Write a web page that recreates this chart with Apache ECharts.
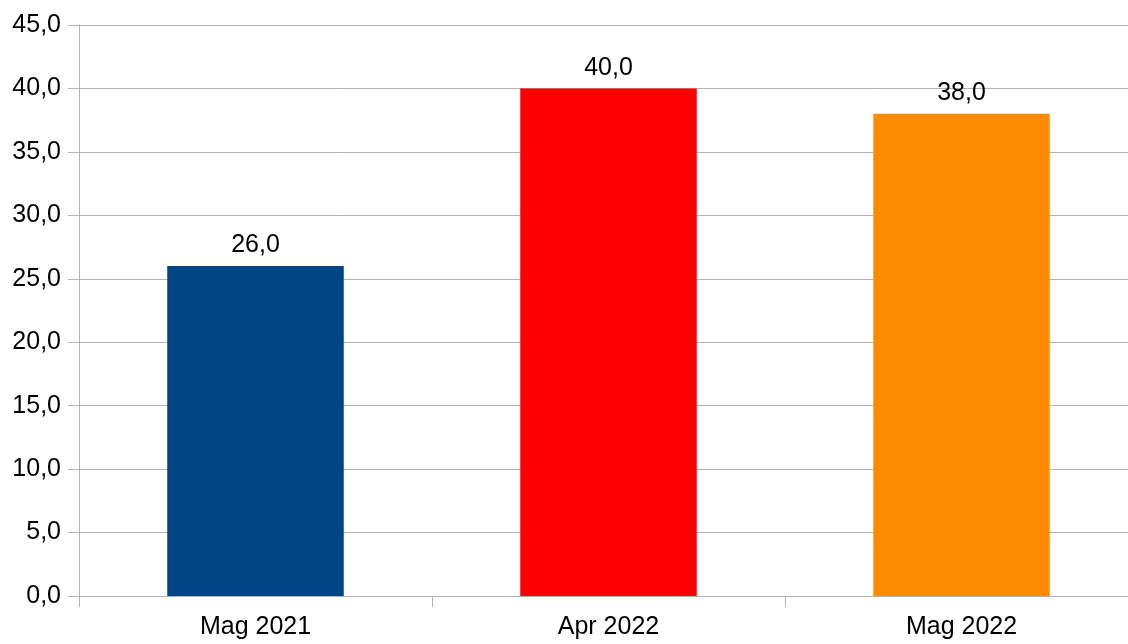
<!DOCTYPE html>
<html>
<head>
<meta charset="utf-8">
<script src="https://cdn.jsdelivr.net/npm/echarts@6/dist/echarts.min.js"></script>
<style>
html,body{margin:0;padding:0;background:#fff;overflow:hidden;width:1128px;height:644px;}
#c{width:1140px;height:644px;}
</style>
</head>
<body>
<div id="c"></div>
<script>
const categories = ['Mag 2021', 'Apr 2022', 'Mag 2022'];
const values = [26.0, 40.0, 38.0];
const barColors = ['#004586', '#ff0000', '#ff8c00'];
const yTicks = { min: 0, max: 45, interval: 5 };

const fmt = v => Number(v).toFixed(1).replace('.', ',');
const chart = echarts.init(document.getElementById('c'), null, { renderer: 'canvas' });
const FONT = '"Liberation Sans", Arial, sans-serif';
chart.setOption({
  animation: false,
  backgroundColor: '#ffffff',
  grid: { left: 79, right: 2, top: 25, bottom: 48, containLabel: false },
  xAxis: {
    type: 'category',
    data: categories,
    boundaryGap: true,
    axisLine: { lineStyle: { color: '#b3b3b3', width: 1 } },
    axisTick: { show: true, length: 11, lineStyle: { color: '#b3b3b3' }, alignWithLabel: false },
    axisLabel: { color: '#000', fontSize: 25, fontFamily: FONT, margin: 19 }
  },
  yAxis: {
    type: 'value',
    min: yTicks.min, max: yTicks.max, interval: yTicks.interval,
    axisLine: { show: true, lineStyle: { color: '#b3b3b3', width: 1 } },
    axisTick: { show: true, length: 11, lineStyle: { color: '#b3b3b3' } },
    splitLine: { show: true, lineStyle: { color: '#b3b3b3', width: 1 } },
    axisLabel: { color: '#000', fontSize: 25, fontFamily: FONT, margin: 18, formatter: fmt }
  },
  series: [{
    type: 'bar',
    data: values.map((v, i) => ({ value: v, itemStyle: { color: barColors[i] } })),
    barWidth: '50%',
    label: { show: true, position: 'top', distance: 8, color: '#000', fontSize: 25, fontFamily: FONT, formatter: p => fmt(p.value) }
  }]
});
</script>
</body>
</html>
